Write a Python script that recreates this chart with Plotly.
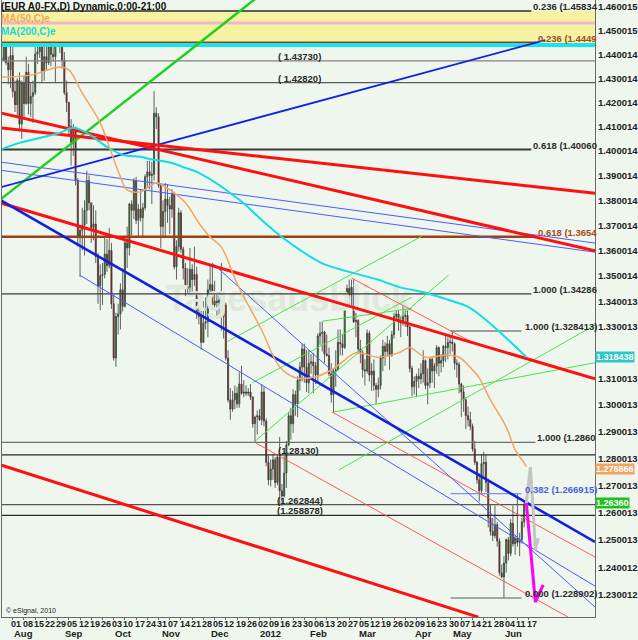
import math
import pandas as pd
import plotly.graph_objects as go

# EUR/USD daily candles, 25 Jul 2011 .. 15 Jun 2012 (one line per trading week)
opens = [
    1.4385, 1.4375, 1.4500, 1.4365, 1.4335,
    1.4395, 1.4245, 1.4190, 1.4290, 1.4110,
    1.4280, 1.4195, 1.4325, 1.4195, 1.4225,
    1.4240, 1.4400, 1.4410, 1.4445, 1.4330,
    1.4390, 1.4365, 1.4435, 1.4400, 1.4390,
    1.4490, 1.4500, 1.4445, 1.4375, 1.4240,
    1.4200, 1.4100, 1.4030, 1.4080, 1.3880,
    1.3655, 1.3680, 1.3700, 1.3760, 1.3880,
    1.3790, 1.3690, 1.3705, 1.3575, 1.3460,
    1.3500, 1.3505, 1.3585, 1.3540, 1.3600,
    1.3390, 1.3180, 1.3340, 1.3350, 1.3445,
    1.3380, 1.3630, 1.3610, 1.3785, 1.3760,
    1.3880, 1.3720, 1.3765, 1.3730, 1.3770,
    1.3895, 1.3915, 1.3900, 1.3905, 1.4155,
    1.4140, 1.3860, 1.3695, 1.3755, 1.3805,
    1.3780, 1.3765, 1.3825, 1.3535, 1.3615,
    1.3750, 1.3605, 1.3530, 1.3450, 1.3455,
    1.3525, 1.3485, 1.3505, 1.3355, 1.3340,
    1.3240, 1.3315, 1.3320, 1.3445, 1.3465,
    1.3385, 1.3400, 1.3395, 1.3405, 1.3340,
    1.3385, 1.3180, 1.3020, 1.2985, 1.3020,
    1.3045, 1.3005, 1.3080, 1.3045, 1.3050,
    1.3045, 1.3050, 1.3030, 1.2930, 1.2955,
    1.2960, 1.2945, 1.3050, 1.2940, 1.2785,
    1.2720, 1.2760, 1.2795, 1.2710, 1.2805,
    1.2680, 1.2660, 1.2745, 1.2850, 1.2960,
    1.2930, 1.3040, 1.3005, 1.3095, 1.3145,
    1.3215, 1.3145, 1.3085, 1.3160, 1.3165,
    1.3150, 1.3115, 1.3265, 1.3275, 1.3280,
    1.3195, 1.3190, 1.3120, 1.3040, 1.3130,
    1.3135, 1.3240, 1.3235, 1.3220, 1.3385,
    1.3450, 1.3425, 1.3455, 1.3320, 1.3325,
    1.3215, 1.3200, 1.3135, 1.3130, 1.3275,
    1.3115, 1.3130, 1.3075, 1.3060, 1.3075,
    1.3180, 1.3225, 1.3205, 1.3235, 1.3190,
    1.3270, 1.3340, 1.3350, 1.3320, 1.3315,
    1.3340, 1.3345, 1.3300, 1.3140, 1.3070,
    1.3090, 1.3110, 1.3100, 1.3120, 1.3170,
    1.3075, 1.3085, 1.3175, 1.3130, 1.3150,
    1.3220, 1.3160, 1.3170, 1.3225, 1.3220,
    1.3240, 1.3242, 1.3235, 1.3160, 1.3155,
    1.3080, 1.3050, 1.3020, 1.2960, 1.2945,
    1.2920, 1.2835, 1.2785, 1.2720, 1.2680,
    1.2780, 1.2785, 1.2710, 1.2580, 1.2530,
    1.2515, 1.2555, 1.2495, 1.2380, 1.2365,
    1.2415, 1.2500, 1.2450, 1.2560, 1.2485,
    1.2505, 1.2490, 1.2500, 1.2565, 1.2630,
]
highs = [
    1.4440, 1.4535, 1.4530, 1.4390, 1.4440,
    1.4450, 1.4290, 1.4300, 1.4325, 1.4290,
    1.4310, 1.4390, 1.4360, 1.4280, 1.4290,
    1.4430, 1.4480, 1.4470, 1.4450, 1.4440,
    1.4440, 1.4465, 1.4445, 1.4475, 1.4500,
    1.4548, 1.4510, 1.4480, 1.4410, 1.4290,
    1.4200, 1.4130, 1.4110, 1.4100, 1.3890,
    1.3700, 1.3770, 1.3800, 1.3920, 1.3900,
    1.3790, 1.3780, 1.3760, 1.3590, 1.3545,
    1.3550, 1.3650, 1.3645, 1.3690, 1.3630,
    1.3425, 1.3355, 1.3390, 1.3470, 1.3530,
    1.3645, 1.3695, 1.3790, 1.3800, 1.3890,
    1.3895, 1.3785, 1.3845, 1.3790, 1.3905,
    1.3960, 1.3960, 1.3955, 1.4247, 1.4180,
    1.4155, 1.3870, 1.3800, 1.3870, 1.3865,
    1.3815, 1.3845, 1.3835, 1.3640, 1.3770,
    1.3760, 1.3615, 1.3550, 1.3530, 1.3610,
    1.3545, 1.3615, 1.3535, 1.3430, 1.3390,
    1.3400, 1.3415, 1.3485, 1.3545, 1.3550,
    1.3480, 1.3435, 1.3435, 1.3550, 1.3440,
    1.3395, 1.3210, 1.3065, 1.3055, 1.3075,
    1.3070, 1.3125, 1.3150, 1.3095, 1.3075,
    1.3065, 1.3080, 1.3035, 1.2960, 1.2980,
    1.2985, 1.3080, 1.3070, 1.2950, 1.2810,
    1.2795, 1.2815, 1.2805, 1.2815, 1.2880,
    1.2705, 1.2810, 1.2865, 1.2975, 1.2990,
    1.3060, 1.3055, 1.3110, 1.3165, 1.3235,
    1.3235, 1.3210, 1.3210, 1.3195, 1.3200,
    1.3165, 1.3275, 1.3320, 1.3320, 1.3285,
    1.3270, 1.3220, 1.3160, 1.3140, 1.3210,
    1.3290, 1.3290, 1.3270, 1.3390, 1.3465,
    1.3485, 1.3485, 1.3486, 1.3355, 1.3330,
    1.3250, 1.3210, 1.3175, 1.3290, 1.3285,
    1.3160, 1.3175, 1.3085, 1.3105, 1.3190,
    1.3250, 1.3240, 1.3265, 1.3250, 1.3285,
    1.3355, 1.3385, 1.3370, 1.3340, 1.3385,
    1.3385, 1.3365, 1.3305, 1.3150, 1.3110,
    1.3120, 1.3140, 1.3160, 1.3210, 1.3175,
    1.3140, 1.3180, 1.3185, 1.3160, 1.3230,
    1.3225, 1.3195, 1.3230, 1.3265, 1.3260,
    1.3265, 1.3284, 1.3240, 1.3175, 1.3165,
    1.3085, 1.3075, 1.3030, 1.2995, 1.2975,
    1.2930, 1.2865, 1.2790, 1.2745, 1.2815,
    1.2825, 1.2815, 1.2725, 1.2630, 1.2580,
    1.2625, 1.2565, 1.2505, 1.2410, 1.2440,
    1.2505, 1.2510, 1.2575, 1.2625, 1.2515,
    1.2670, 1.2525, 1.2580, 1.2640, 1.2660,
]
lows = [
    1.4325, 1.4370, 1.4355, 1.4275, 1.4260,
    1.4220, 1.4160, 1.4140, 1.4080, 1.4050,
    1.4140, 1.4190, 1.4150, 1.4140, 1.4115,
    1.4230, 1.4360, 1.4385, 1.4280, 1.4290,
    1.4330, 1.4355, 1.4350, 1.4370, 1.4280,
    1.4460, 1.4405, 1.4340, 1.4230, 1.4160,
    1.4060, 1.3940, 1.3980, 1.3860, 1.3615,
    1.3495, 1.3600, 1.3580, 1.3705, 1.3760,
    1.3630, 1.3640, 1.3550, 1.3390, 1.3365,
    1.3385, 1.3490, 1.3515, 1.3530, 1.3370,
    1.3170, 1.3146, 1.3270, 1.3290, 1.3360,
    1.3375, 1.3530, 1.3580, 1.3660, 1.3725,
    1.3705, 1.3655, 1.3715, 1.3650, 1.3760,
    1.3855, 1.3845, 1.3785, 1.3880, 1.4090,
    1.3850, 1.3610, 1.3655, 1.3655, 1.3710,
    1.3665, 1.3730, 1.3525, 1.3485, 1.3595,
    1.3590, 1.3485, 1.3420, 1.3430, 1.3420,
    1.3420, 1.3460, 1.3330, 1.3310, 1.3212,
    1.3240, 1.3290, 1.3260, 1.3420, 1.3380,
    1.3375, 1.3335, 1.3335, 1.3285, 1.3255,
    1.3170, 1.3010, 1.2945, 1.2975, 1.2985,
    1.2990, 1.2990, 1.3040, 1.3030, 1.3035,
    1.3035, 1.3020, 1.2915, 1.2858, 1.2890,
    1.2940, 1.2925, 1.2920, 1.2770, 1.2700,
    1.2695, 1.2720, 1.2690, 1.2700, 1.2624,
    1.2625, 1.2655, 1.2690, 1.2845, 1.2870,
    1.2895, 1.2960, 1.2955, 1.3055, 1.3090,
    1.3085, 1.3050, 1.3045, 1.3120, 1.3045,
    1.3080, 1.3090, 1.3230, 1.3205, 1.3160,
    1.3185, 1.3110, 1.3010, 1.2973, 1.3070,
    1.3130, 1.3190, 1.3190, 1.3215, 1.3380,
    1.3385, 1.3385, 1.3315, 1.3260, 1.3195,
    1.3160, 1.3105, 1.3075, 1.3120, 1.3090,
    1.3055, 1.3055, 1.3005, 1.3030, 1.3060,
    1.3130, 1.3150, 1.3185, 1.3135, 1.3185,
    1.3255, 1.3330, 1.3285, 1.3260, 1.3305,
    1.3300, 1.3265, 1.3125, 1.3035, 1.3040,
    1.3030, 1.3065, 1.3080, 1.3085, 1.3060,
    1.3003, 1.3065, 1.3085, 1.3065, 1.3120,
    1.3110, 1.3125, 1.3145, 1.3165, 1.3175,
    1.3195, 1.3205, 1.3135, 1.3105, 1.3045,
    1.2955, 1.2975, 1.2910, 1.2920, 1.2905,
    1.2825, 1.2775, 1.2705, 1.2640, 1.2670,
    1.2725, 1.2675, 1.2545, 1.2515, 1.2495,
    1.2505, 1.2475, 1.2370, 1.2360, 1.2288,
    1.2380, 1.2425, 1.2440, 1.2475, 1.2445,
    1.2475, 1.2440, 1.2485, 1.2545, 1.2600,
]
closes = [
    1.4375, 1.4500, 1.4365, 1.4335, 1.4395,
    1.4245, 1.4190, 1.4290, 1.4110, 1.4280,
    1.4195, 1.4325, 1.4195, 1.4225, 1.4240,
    1.4400, 1.4410, 1.4445, 1.4330, 1.4390,
    1.4365, 1.4435, 1.4400, 1.4390, 1.4490,
    1.4500, 1.4445, 1.4375, 1.4240, 1.4200,
    1.4100, 1.4030, 1.4080, 1.3880, 1.3655,
    1.3680, 1.3700, 1.3760, 1.3880, 1.3790,
    1.3690, 1.3705, 1.3575, 1.3460, 1.3500,
    1.3505, 1.3585, 1.3540, 1.3600, 1.3390,
    1.3180, 1.3340, 1.3350, 1.3445, 1.3380,
    1.3630, 1.3610, 1.3785, 1.3760, 1.3880,
    1.3720, 1.3765, 1.3730, 1.3770, 1.3895,
    1.3915, 1.3900, 1.3905, 1.4155, 1.4140,
    1.3860, 1.3695, 1.3755, 1.3805, 1.3780,
    1.3765, 1.3825, 1.3535, 1.3615, 1.3750,
    1.3605, 1.3530, 1.3450, 1.3455, 1.3525,
    1.3485, 1.3505, 1.3355, 1.3340, 1.3240,
    1.3315, 1.3320, 1.3445, 1.3465, 1.3385,
    1.3400, 1.3395, 1.3405, 1.3340, 1.3385,
    1.3180, 1.3020, 1.2985, 1.3020, 1.3045,
    1.3005, 1.3080, 1.3045, 1.3050, 1.3045,
    1.3050, 1.3030, 1.2930, 1.2955, 1.2960,
    1.2945, 1.3050, 1.2940, 1.2785, 1.2720,
    1.2760, 1.2795, 1.2710, 1.2805, 1.2680,
    1.2660, 1.2745, 1.2850, 1.2960, 1.2930,
    1.3040, 1.3005, 1.3095, 1.3145, 1.3215,
    1.3145, 1.3085, 1.3160, 1.3165, 1.3150,
    1.3115, 1.3265, 1.3275, 1.3280, 1.3195,
    1.3190, 1.3120, 1.3040, 1.3130, 1.3135,
    1.3240, 1.3235, 1.3220, 1.3385, 1.3450,
    1.3425, 1.3455, 1.3320, 1.3325, 1.3215,
    1.3200, 1.3135, 1.3130, 1.3275, 1.3115,
    1.3130, 1.3075, 1.3060, 1.3075, 1.3180,
    1.3225, 1.3205, 1.3235, 1.3190, 1.3270,
    1.3340, 1.3350, 1.3320, 1.3315, 1.3340,
    1.3345, 1.3300, 1.3140, 1.3070, 1.3090,
    1.3110, 1.3100, 1.3120, 1.3170, 1.3075,
    1.3085, 1.3175, 1.3130, 1.3150, 1.3220,
    1.3160, 1.3170, 1.3225, 1.3220, 1.3240,
    1.3242, 1.3235, 1.3160, 1.3155, 1.3080,
    1.3050, 1.3020, 1.2960, 1.2945, 1.2920,
    1.2835, 1.2785, 1.2720, 1.2680, 1.2780,
    1.2785, 1.2710, 1.2580, 1.2530, 1.2515,
    1.2555, 1.2495, 1.2380, 1.2365, 1.2415,
    1.2500, 1.2450, 1.2560, 1.2485, 1.2505,
    1.2490, 1.2500, 1.2565, 1.2630, 1.2636,
]

# bar index: 0 = Mon 1 Aug 2011
days = pd.bdate_range("2011-07-25", "2012-06-15")
bar_x = [i - 5 for i in range(len(days))]

# moving averages (bar index, value)
ma50_x = [-5, 8, 21, 25, 31, 39, 43, 48, 51, 57, 64, 70, 77, 83, 88, 93, 100, 111, 119,
          126, 135, 142, 147, 153, 163, 172, 177, 184, 193, 199, 205, 208, 213, 220,
          224, 228, 229]
ma50_y = [1.4305, 1.4313, 1.4347, 1.4335, 1.4238, 1.4115, 1.4017, 1.3895, 1.3842, 1.3834,
          1.3870, 1.3842, 1.3790, 1.3709, 1.3653, 1.3613, 1.3470, 1.3287, 1.3146, 1.3104,
          1.3108, 1.3134, 1.3165, 1.3200, 1.3183, 1.3200, 1.3219, 1.3183, 1.3191, 1.3183,
          1.3134, 1.3104, 1.3020, 1.2918, 1.2832, 1.2783, 1.2769]
ma200_x = [-6, 3, 12, 21, 27, 33, 42, 49, 57, 62, 71, 77, 83, 101, 111, 120, 128, 138,
           150, 163, 172, 184, 194, 203, 211, 229]
ma200_y = [1.4004, 1.4033, 1.4053, 1.4074, 1.4095, 1.4074, 1.4017, 1.3984, 1.3976, 1.3965,
           1.3951, 1.3931, 1.3911, 1.3802, 1.3721, 1.3653, 1.3602, 1.3549, 1.3515, 1.3484,
           1.3456, 1.3433, 1.3406, 1.3378, 1.3327, 1.3184]

# trend lines as (bar, price) anchor pairs
red_thick = [[(-5.7, 1.4157), (259.6, 1.3598)],
             [(-5.7, 1.4095), (259.6, 1.3828)],
             [(-5.7, 1.3790), (259.6, 1.3100)],
             [(-5.7, 1.2776), (207.6, 1.2221)]]
blue_fall = [(-5.7, 1.3802), (259.6, 1.2492)]
blue_rise = [(-5.7, 1.3852), (237.4, 1.4460)]
green_thick = [(-5.7, 1.3802), (118.9, 1.4716)]
blue_thin = [[(-5.7, 1.3955), (259.6, 1.3629)],
             [(-5.7, 1.3922), (259.6, 1.3593)],
             [(29.9, 1.3502), (259.6, 1.2332)],
             [(89.0, 1.3549), (259.6, 1.2257)]]
red_thin = [[(151.2, 1.3490), (204.5, 1.3242)],
            [(142.3, 1.2974), (259.6, 1.2437)],
            [(108.5, 1.2857), (247.6, 1.2221)]]
green_thin = [[(95.6, 1.3243), (182.3, 1.3656)],
              [(107.6, 1.2861), (194.3, 1.3502)],
              [(106.8, 1.3085), (177.9, 1.3416)],
              [(137.9, 1.3322), (177.9, 1.3372)],
              [(143.2, 1.2974), (259.6, 1.3162)],
              [(145.4, 1.2757), (259.6, 1.3307)]]

# forecast paths after the last bar
grey_path_x = [229.0, 230.8, 232.1, 233.0, 234.3]
grey_path_y = [1.2634, 1.2767, 1.2597, 1.2463, 1.2506]
pink_path_x = [229.0, 230.8, 233.0, 236.5]
pink_path_y = [1.2634, 1.2463, 1.2275, 1.2336]

DARK, GREY, BROWN, BLUE = "#2a2a2a", "#808080", "#9b3f14", "#4a62d8"
# horizontal levels: price, from bar, to bar, colour, width
levels = [
    (1.45834, -6, 231.2, DARK, 1.5),
    (1.4532, -6, 262, "#f2b6c6", 3),
    (1.4449, -6, 233.4, BROWN, 2.5),
    (1.4439, -6, 262, "#13e6ee", 4),
    (1.43730, -6, 262, GREY, 1.3),
    (1.42820, -6, 262, "#5a5a5a", 1.3),
    (1.40060, -6, 231.2, "#3a3a3a", 1.8),
    (1.3654, -6, 233.4, BROWN, 2.5),
    (1.34286, -6, 231.2, "#3a3a3a", 1.3),
    (1.328413, 195.2, 226.8, GREY, 1.5),
    (1.2860, -6, 233.0, "#6e6e6e", 1.3),
    (1.28130, -6, 262, DARK, 1.2),
    (1.266915, 195.2, 226.8, "#7a90ff", 1.3),
    (1.262844, -6, 262, "#555555", 1.3),
    (1.258878, -6, 262, DARK, 1.2),
    (1.228902, 195.2, 226.8, "#8c8c8c", 1.5),
]
level_texts = [
    ("0.236 (1.45834", 231.2, 1.45834, DARK),
    ("( 1.43730)", 117.4, 1.43730, DARK),
    ("( 1.42820)", 117.4, 1.42820, DARK),
    ("0.236 (1.4449", 233.4, 1.4449, "#a34a1c"),
    ("0.618 (1.40060", 231.2, 1.40060, DARK),
    ("0.618 (1.3654", 233.4, 1.3654, "#a34a1c"),
    ("1.000 (1.34286", 231.2, 1.34286, DARK),
    ("1.000 (1.328413)", 227.6, 1.328413, DARK),
    ("1.000 (1.2860", 233.0, 1.2860, DARK),
    ("(1.28130)", 117.2, 1.28130, DARK),
    ("0.382 (1.266915)", 227.6, 1.266915, BLUE),
    ("(1.262844)", 116.8, 1.262844, DARK),
    ("(1.258878)", 116.8, 1.258878, DARK),
    ("0.000 (1.228902)", 227.6, 1.228902, DARK),
]
band = (1.4449, 1.4583)

# right axis labels (1.320013 sits under the MA200 value box in the original)
price_ticks = ["1.230012", "1.240012", "1.250013", "1.260013", "1.270013", "1.280013",
               "1.290013", "1.300013", "1.310013", "1.330013", "1.340013",
               "1.350014", "1.360014", "1.370014", "1.380014", "1.390014", "1.400014",
               "1.410014", "1.420014", "1.430014", "1.440014", "1.450015", "1.460015"]
week_labels = ["01", "08", "15", "22", "29", "05", "12", "19", "26", "03", "10", "17", "24",
               "31", "07", "14", "21", "28", "05", "12", "19", "26", "02", "09", "16", "23",
               "30", "06", "13", "20", "27", "05", "12", "19", "26", "02", "09", "16", "23",
               "30", "07", "14", "21", "28", "04", "11", "17"]
month_labels = ["Aug", "Sep", "Oct", "Nov", "Dec", "2012", "Feb", "Mar", "Apr", "May", "Jun"]
month_bars = [0, 23, 45, 66, 88, 110, 132, 154, 179, 196, 219]
# last values of MA200, MA50 and price, boxed on the right axis
value_boxes = [("1.318438", "#2ec8c8", 0), ("1.276866", "#f0a462", -2), ("1.26360", "#1fbf1f", 0)]

BG = "#eff6ee"
FONT = "Liberation Sans, Arial, sans-serif"

fig = go.Figure()

# faint watermark
fig.add_trace(go.Scatter(x=[123], y=[1.3397], mode="text", text=["Tagesausblick"],
                         textfont=dict(size=36, color="#dfe9dc", family=FONT, weight="bold"),
                         hoverinfo="skip"))

# yellow band
fig.add_trace(go.Scatter(x=[-6, 262, 262, -6, -6], y=[band[0], band[0], band[1], band[1], band[0]],
                         fill="toself", fillcolor="#f5f3a2", line=dict(width=0),
                         mode="lines", hoverinfo="skip"))

for p, a, b, col, w in levels:
    fig.add_trace(go.Scatter(x=[a, b], y=[p, p], mode="lines",
                             line=dict(color=col, width=w), hoverinfo="skip"))


def add_line(seg, color, width):
    fig.add_trace(go.Scatter(x=[seg[0][0], seg[1][0]], y=[seg[0][1], seg[1][1]],
                             mode="lines", line=dict(color=color, width=width),
                             hoverinfo="skip"))


for seg in green_thin:
    add_line(seg, "#4ee04e", 1)
for seg in red_thin:
    add_line(seg, "#ff4a4a", 0.9)
for seg in blue_thin:
    add_line(seg, "#4a5cff", 1)
add_line(green_thick, "#1ed01e", 2.5)
add_line(blue_rise, "#1020e8", 1.8)
for seg in red_thick:
    add_line(seg, "#ff1010", 3)
add_line(blue_fall, "#1020e0", 2.6)

fig.add_trace(go.Scatter(x=ma200_x, y=ma200_y, mode="lines", line=dict(color="#12dce4", width=2),
                         line_shape="spline", hoverinfo="skip"))
fig.add_trace(go.Scatter(x=ma50_x, y=ma50_y, mode="lines", line=dict(color="#f4a460", width=1.5),
                         line_shape="spline", hoverinfo="skip"))

fig.add_trace(go.Candlestick(
    x=bar_x, open=opens, high=highs, low=lows, close=closes,
    increasing=dict(fillcolor="#10a010", line=dict(color="#3c3c3c", width=0.8)),
    decreasing=dict(fillcolor="#c00c0c", line=dict(color="#3c3c3c", width=0.8)),
    hoverinfo="skip"))

fig.add_trace(go.Scatter(x=grey_path_x, y=grey_path_y, mode="lines",
                         line=dict(color="#c4c4c4", width=3), hoverinfo="skip"))
fig.add_trace(go.Scatter(x=pink_path_x, y=pink_path_y, mode="lines",
                         line=dict(color="#ff00ff", width=3), hoverinfo="skip"))

annotations = []
for txt, x0, p, col in level_texts:
    annotations.append(dict(x=x0, y=math.log10(p), xref="x", yref="y", text=txt,
                            showarrow=False, xanchor="left", yanchor="bottom", yshift=-3,
                            font=dict(size=9.5, color=col, family=FONT, weight="bold")))

for txt, col, dy in value_boxes:
    annotations.append(dict(x=1, y=math.log10(float(txt)), xref="paper", yref="y", text=txt,
                            showarrow=False, xanchor="left", yanchor="middle", xshift=0,
                            yshift=dy, bgcolor=col, borderpad=0,
                            font=dict(size=9, color="white", family=FONT, weight="bold")))

# week numbers and month names under the axis
week_bars = [5 * k for k in range(len(week_labels))]
for txt, b in zip(week_labels, week_bars):
    annotations.append(dict(x=b + 1.6, y=0, xref="x", yref="paper", text=txt, showarrow=False,
                            xanchor="center", yanchor="top", yshift=-1, borderpad=0,
                            font=dict(size=9, color="#202020", family=FONT, weight="bold")))
for txt, b in zip(month_labels, month_bars):
    annotations.append(dict(x=b, y=0, xref="x", yref="paper", text=txt, showarrow=False,
                            xanchor="left", yanchor="bottom", yshift=-23, borderpad=0,
                            font=dict(size=9.5, color="#202020", family=FONT, weight="bold")))

header = [("(EUR A0-FX,D) Dynamic,0:00-21:00", "#111111", 1),
          ("MA(50,C)e", "#f4a460", -11),
          ("MA(200,C)e", "#10d8e0", -24)]
for txt, col, dy in header:
    annotations.append(dict(x=0, y=1, xref="paper", yref="paper", text=txt, showarrow=False,
                            xanchor="left", yanchor="top", xshift=-3, yshift=dy,
                            font=dict(size=10, color=col, family=FONT, weight="bold")))

annotations.append(dict(x=0, y=0, xref="paper", yref="paper", text="© eSignal, 2010",
                        showarrow=False, xanchor="left", yanchor="bottom", xshift=2, yshift=0,
                        font=dict(size=7, color="#202020", family=FONT)))

fig.update_layout(
    width=638, height=640,
    margin=dict(l=2, r=41, t=0, b=23, pad=0),
    paper_bgcolor=BG, plot_bgcolor=BG,
    showlegend=False,
    font=dict(family=FONT, size=10, color="#202020"),
    annotations=annotations,
    xaxis=dict(range=[-4.8, 259.6], showgrid=False, zeroline=False,
               showline=True, linecolor="#6a6a6a", linewidth=1,
               tickvals=week_bars, showticklabels=False,
               ticks="outside", ticklen=2, tickcolor="#6a6a6a",
               rangeslider=dict(visible=False), fixedrange=True),
    yaxis=dict(type="log", range=[0.087122, 0.165243], side="right",
               showgrid=False, zeroline=False, showline=True, mirror=True,
               linecolor="#6a6a6a", linewidth=1,
               tickvals=[float(t) for t in price_ticks], ticktext=price_ticks, ticks="",
               tickfont=dict(size=9.5, color="#202020", family=FONT, weight="bold"),
               fixedrange=True),
)

fig.write_html("out.html", config={"displayModeBar": False},
               post_script="document.body.style.margin='0';document.body.style.overflow='hidden';")
